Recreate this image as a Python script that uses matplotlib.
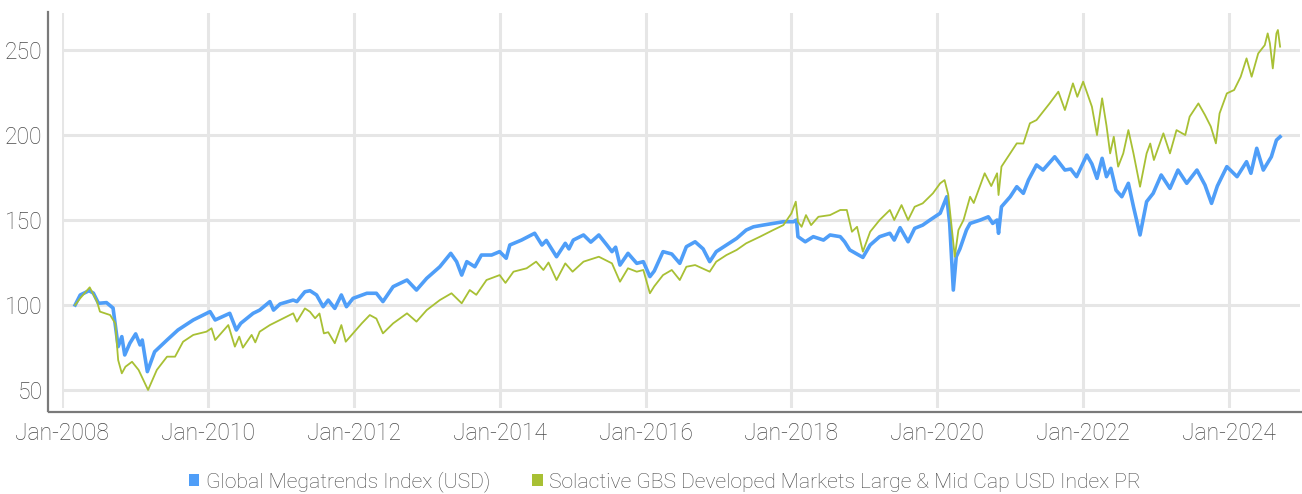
import matplotlib
matplotlib.use("Agg")
import matplotlib.pyplot as plt
from matplotlib.patches import Patch
from matplotlib.lines import Line2D

# ---------------- data (decimal years, index values) ----------------
blue_t = [2008.18, 2008.25, 2008.37, 2008.43, 2008.50, 2008.61, 2008.70, 2008.77, 2008.82, 2008.86,
          2008.93, 2009.01, 2009.07, 2009.10, 2009.17, 2009.27, 2009.44, 2009.59, 2009.80, 2010.03,
          2010.10, 2010.30, 2010.39, 2010.45, 2010.62, 2010.71, 2010.85, 2010.90, 2010.99, 2011.17,
          2011.22, 2011.33, 2011.40, 2011.49, 2011.58, 2011.65, 2011.74, 2011.83, 2011.90, 2011.99,
          2012.18, 2012.31, 2012.40, 2012.54, 2012.73, 2012.86, 2013.00, 2013.18, 2013.33, 2013.41,
          2013.48, 2013.55, 2013.66, 2013.75, 2013.89, 2014.00, 2014.09, 2014.14, 2014.30, 2014.48,
          2014.58, 2014.64, 2014.78, 2014.90, 2014.95, 2015.01, 2015.15, 2015.25, 2015.36, 2015.47,
          2015.54, 2015.59, 2015.65, 2015.76, 2015.88, 2015.97, 2016.06, 2016.12, 2016.24, 2016.36,
          2016.47, 2016.56, 2016.68, 2016.79, 2016.88, 2016.97, 2017.11, 2017.25, 2017.38, 2017.48,
          2017.61, 2017.75, 2017.89, 2018.03, 2018.07, 2018.09, 2018.19, 2018.30, 2018.44, 2018.53,
          2018.67, 2018.73, 2018.80, 2018.98, 2019.08, 2019.21, 2019.35, 2019.41, 2019.49, 2019.60,
          2019.69, 2019.80, 2019.90, 2020.04, 2020.13, 2020.17, 2020.22, 2020.26, 2020.31, 2020.40,
          2020.45, 2020.59, 2020.70, 2020.76, 2020.82, 2020.84, 2020.88, 2021.00, 2021.09, 2021.18,
          2021.25, 2021.36, 2021.45, 2021.61, 2021.75, 2021.83, 2021.91, 2022.05, 2022.12, 2022.19,
          2022.26, 2022.32, 2022.38, 2022.45, 2022.53, 2022.62, 2022.69, 2022.78, 2022.87, 2022.96,
          2023.07, 2023.19, 2023.30, 2023.42, 2023.56, 2023.67, 2023.76, 2023.84, 2023.97, 2024.11,
          2024.24, 2024.30, 2024.38, 2024.47, 2024.58, 2024.65, 2024.70]
blue_v = [100.0, 105.9, 108.4, 107.0, 101.0, 101.4, 98.2, 75.5, 81.4, 70.6,
          77.5, 83.0, 76.5, 79.4, 60.8, 72.5, 79.4, 85.3, 91.2, 96.1,
          91.2, 95.1, 85.3, 89.2, 95.1, 97.0, 102.0, 97.0, 100.6, 102.9,
          102.0, 107.8, 108.4, 105.9, 99.0, 102.9, 98.0, 105.9, 99.0, 103.9,
          106.9, 106.9, 102.0, 110.8, 114.7, 108.8, 115.7, 122.5, 130.4, 125.5,
          117.6, 125.5, 122.5, 129.4, 129.4, 131.4, 127.5, 135.3, 138.2, 142.2,
          135.3, 138.0, 128.4, 136.3, 133.0, 138.2, 141.2, 137.0, 141.2, 135.3,
          131.4, 134.0, 123.5, 130.4, 124.5, 125.5, 116.7, 120.0, 131.4, 130.0,
          124.5, 134.3, 137.2, 133.0, 125.5, 131.4, 135.3, 139.2, 144.1, 146.0,
          147.0, 148.0, 149.0, 149.0, 150.0, 140.2, 137.2, 140.2, 138.2, 141.2,
          140.2, 137.2, 132.4, 128.0, 135.3, 140.2, 142.2, 138.2, 145.5, 137.2,
          145.1, 147.0, 150.0, 154.0, 163.7, 148.0, 108.8, 128.4, 133.0, 144.1,
          148.0, 150.0, 151.9, 148.0, 150.0, 142.2, 157.8, 163.7, 169.6, 165.7,
          173.5, 182.4, 179.4, 187.2, 179.4, 180.0, 175.5, 188.2, 183.0, 174.5,
          186.3, 175.5, 180.4, 167.6, 163.7, 171.6, 157.8, 141.2, 160.8, 165.7,
          176.5, 168.6, 179.4, 171.6, 179.4, 170.6, 159.8, 170.0, 181.4, 175.5,
          184.3, 177.5, 192.2, 179.4, 187.2, 197.0, 199.0]

green_t = [2008.18, 2008.25, 2008.38, 2008.48, 2008.52, 2008.66, 2008.73, 2008.77, 2008.82, 2008.87,
           2008.96, 2009.05, 2009.18, 2009.30, 2009.44, 2009.55, 2009.66, 2009.80, 2009.98, 2010.05,
           2010.10, 2010.28, 2010.37, 2010.43, 2010.48, 2010.60, 2010.65, 2010.71, 2010.85, 2010.99,
           2011.17, 2011.22, 2011.33, 2011.40, 2011.47, 2011.53, 2011.59, 2011.65, 2011.74, 2011.83,
           2011.89, 2011.99, 2012.11, 2012.22, 2012.31, 2012.40, 2012.54, 2012.73, 2012.86, 2013.00,
           2013.18, 2013.34, 2013.48, 2013.59, 2013.68, 2013.82, 2014.00, 2014.08, 2014.19, 2014.37,
           2014.50, 2014.60, 2014.67, 2014.78, 2014.90, 2015.00, 2015.15, 2015.36, 2015.54, 2015.65,
           2015.76, 2015.88, 2015.97, 2016.06, 2016.12, 2016.24, 2016.36, 2016.47, 2016.56, 2016.68,
           2016.88, 2016.97, 2017.11, 2017.25, 2017.38, 2017.57, 2017.75, 2017.89, 2018.00, 2018.06,
           2018.09, 2018.14, 2018.20, 2018.27, 2018.37, 2018.53, 2018.67, 2018.76, 2018.83, 2018.90,
           2018.98, 2019.08, 2019.21, 2019.35, 2019.41, 2019.51, 2019.60, 2019.69, 2019.80, 2019.94,
           2020.04, 2020.10, 2020.15, 2020.24, 2020.29, 2020.36, 2020.45, 2020.50, 2020.65, 2020.74,
           2020.82, 2020.84, 2020.88, 2021.00, 2021.09, 2021.18, 2021.27, 2021.36, 2021.45, 2021.54,
           2021.66, 2021.75, 2021.86, 2021.92, 2022.00, 2022.12, 2022.19, 2022.26, 2022.32, 2022.37,
           2022.42, 2022.48, 2022.55, 2022.62, 2022.69, 2022.78, 2022.87, 2022.92, 2022.97, 2023.10,
           2023.19, 2023.28, 2023.40, 2023.46, 2023.58, 2023.67, 2023.75, 2023.82, 2023.87, 2023.97,
           2024.07, 2024.16, 2024.24, 2024.31, 2024.40, 2024.49, 2024.53, 2024.56, 2024.60, 2024.65,
           2024.67, 2024.70]
green_v = [100.0, 104.0, 110.4, 102.0, 96.1, 94.1, 89.2, 67.6, 59.8, 63.7,
           66.6, 61.8, 50.0, 61.8, 69.6, 69.6, 78.4, 82.4, 84.3, 86.3,
           79.4, 88.2, 75.5, 81.4, 74.9, 82.4, 78.0, 84.3, 88.2, 91.2,
           95.1, 90.2, 98.0, 96.0, 92.2, 95.0, 83.3, 84.0, 77.5, 88.2,
           78.4, 83.3, 89.2, 94.1, 92.0, 83.3, 89.2, 95.1, 90.2, 97.0,
           102.9, 106.9, 101.0, 108.8, 106.0, 114.7, 117.6, 113.0, 119.6, 121.6,
           125.5, 120.6, 125.0, 114.7, 124.5, 119.6, 125.5, 128.4, 124.5, 113.7,
           121.6, 119.6, 120.6, 106.9, 111.0, 117.6, 120.6, 114.7, 122.5, 123.5,
           119.6, 125.5, 129.4, 132.4, 136.3, 140.2, 144.1, 147.0, 153.9, 160.8,
           149.0, 146.0, 152.9, 147.0, 151.9, 152.9, 155.9, 155.9, 143.1, 146.0,
           131.4, 143.1, 150.0, 155.9, 150.0, 158.8, 150.0, 157.8, 159.8, 165.7,
           171.6, 173.5, 165.0, 128.4, 144.1, 150.0, 163.7, 160.0, 177.5, 170.0,
           177.5, 164.7, 181.4, 189.2, 195.1, 195.0, 206.9, 208.8, 213.7, 218.6,
           225.5, 214.7, 230.4, 222.5, 231.4, 216.7, 200.0, 221.6, 205.5, 189.2,
           199.0, 181.4, 189.2, 202.9, 189.2, 169.6, 189.2, 195.0, 185.3, 201.0,
           189.2, 202.9, 200.0, 210.8, 218.6, 211.8, 205.0, 195.1, 212.7, 224.5,
           226.5, 234.3, 245.1, 234.3, 248.0, 252.9, 259.8, 254.0, 239.2, 259.8,
           261.8, 252.0]

x_ticks = [2008, 2010, 2012, 2014, 2016, 2018, 2020, 2022, 2024]
x_tick_labels = ["Jan-2008", "Jan-2010", "Jan-2012", "Jan-2014", "Jan-2016",
                 "Jan-2018", "Jan-2020", "Jan-2022", "Jan-2024"]
y_ticks = [50, 100, 150, 200, 250]
series_names = ["Global Megatrends Index (USD)",
                "Solactive GBS Developed Markets Large & Mid Cap USD Index PR"]

# ---------------- style ----------------
BLUE = "#4F9EF8"
GREEN = "#A8C034"
TEXT = "#4A4A4A"
GRID = "#E6E6E6"
SPINE = "#7A7A7A"
FONT = ["Roboto", "DejaVu Sans"]

plt.rcParams["font.family"] = FONT
plt.rcParams["font.weight"] = "light"

W, H = 1302, 494
fig = plt.figure(figsize=(W / 100, H / 100), dpi=100)
fig.patch.set_facecolor("white")

ax_l, ax_r, ax_t, ax_b = 62, 1300, 13, 408
ax = fig.add_axes([ax_l / W, 1 - ax_b / H, (ax_r - ax_l) / W, (ax_b - ax_t) / H])

ax.plot(green_t, green_v, color=GREEN, lw=1.3, zorder=3, solid_joinstyle="round")
ax.plot(blue_t, blue_v, color=BLUE, lw=2.6, zorder=2, solid_joinstyle="round")

ax.set_xlim(2008.0, 2024.973)
ax.set_ylim(39.4, 271.8)
ax.set_xticks(x_ticks)
ax.set_xticklabels(x_tick_labels)
ax.set_yticks(y_ticks)

ax.grid(True, color=GRID, lw=2.2, zorder=0)
ax.set_axisbelow(True)
for s in ax.spines.values():
    s.set_visible(False)

ax.tick_params(axis="both", length=0, labelsize=16.5, labelcolor=TEXT)
ax.tick_params(axis="y", pad=14)
ax.tick_params(axis="x", pad=10)
for lab in ax.get_xticklabels() + ax.get_yticklabels():
    lab.set_fontweight("light")

# offset axis lines (drawn in figure pixel coordinates)
def fx(px):
    return px / W

def fy(py):
    return 1 - py / H

fig.add_artist(Line2D([fx(48), fx(48)], [fy(12), fy(411)], color=SPINE, lw=1.6))
fig.add_artist(Line2D([fx(49), fx(1302)], [fy(412), fy(412)], color=SPINE, lw=1.6))

handles = [Patch(facecolor=BLUE, edgecolor="none"), Patch(facecolor=GREEN, edgecolor="none")]
leg = fig.legend(handles, series_names, loc="center", bbox_to_anchor=(fx(665), fy(482)),
                 ncol=2, frameon=False, fontsize=15.2, labelcolor=TEXT,
                 handlelength=0.5, handleheight=0.5, handletextpad=0.3, columnspacing=2.0,
                 borderpad=0, borderaxespad=0)
for t in leg.get_texts():
    t.set_fontweight("light")

fig.savefig("out.png", dpi=100, facecolor="white")
